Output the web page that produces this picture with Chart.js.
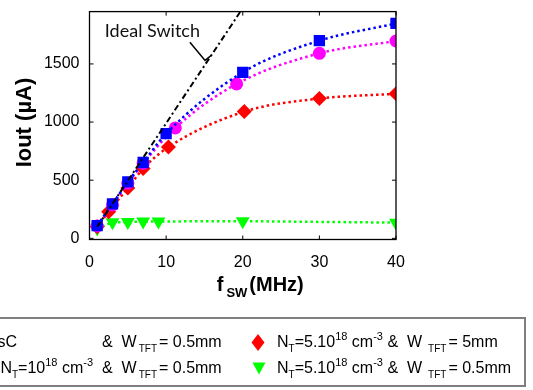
<!DOCTYPE html>
<html><head><meta charset="utf-8">
<script src="https://cdn.jsdelivr.net/npm/chart.js@4.4.1/dist/chart.umd.min.js"></script>
<style>
html,body{margin:0;padding:0;background:#fff;width:533px;height:390px;overflow:hidden;position:relative;font-family:"Liberation Sans",Arial,sans-serif;}
#c{position:absolute;left:0;top:0;}
#legend{position:absolute;left:-160px;top:317px;width:686px;height:70px;border:2px solid #7f7f7f;box-sizing:border-box;}
.lt{position:absolute;font-size:16px;line-height:16px;white-space:nowrap;color:#000;}
.sb{font-size:10px;position:relative;top:5px;margin:0 2px 0 2px;}
.sp{font-size:11px;position:relative;top:-7px;}
.mk{position:absolute;}
</style></head><body>
<canvas id="c" width="533" height="390"></canvas>
<div id="legend"></div>
<div class="lt" style="right:516px;top:333.5px">sC</div>
<div class="lt" style="left:102px;top:333.5px">&amp;&nbsp; W<span class="sb">TFT</span>= 0.5mm</div>
<div class="lt" style="right:440px;top:359.5px">N<span class="sb" style="margin:0">T</span>=10<span class="sp">18</span> cm<span class="sp">-3</span></div>
<div class="lt" style="left:102px;top:359.5px">&amp;&nbsp; W<span class="sb">TFT</span>= 0.5mm</div>
<svg class="mk" style="left:250px;top:334px" width="16" height="17"><polygon points="8,0 14.5,8.5 8,17 1.5,8.5" fill="#ff0000"/></svg>
<svg class="mk" style="left:252px;top:362px" width="14" height="13"><polygon points="0.5,0.5 13.5,0.5 7,12.5" fill="#00ff00"/></svg>
<div class="lt" style="left:277px;top:333.5px">N<span class="sb" style="margin:0">T</span>=5.10<span class="sp">18</span> cm<span class="sp">-3</span> &amp;&nbsp; W<span class="sb" style="margin-left:6px">TFT</span>= 5mm</div>
<div class="lt" style="left:277px;top:359.5px">N<span class="sb" style="margin:0">T</span>=5.10<span class="sp">18</span> cm<span class="sp">-3</span> &amp;&nbsp; W<span class="sb" style="margin-left:6px">TFT</span>= 0.5mm</div>
<script>
// ---- data ----
const fIdeal = [1, 5, 10, 15, 20, 22];
const iIdeal = [99, 495, 990, 1485, 1980, 2178];
const fBlue  = [1, 3, 5, 7, 10, 20, 30, 40];
const iBlue  = [110, 296, 486, 652, 900, 1428, 1700, 1848];
const fMag   = [1, 3, 5, 7, 11.2, 19.2, 30, 40];
const iMag   = [106, 288, 474, 644, 950, 1328, 1591, 1697];
const fRed   = [1, 2.5, 5, 7, 10.3, 20.2, 30, 40];
const iRed   = [100, 228, 432, 600, 785, 1090, 1202, 1243];
const fGreen = [1, 3, 5, 7, 9, 20, 40];
const iGreen = [85, 138, 140, 145, 145, 148, 135];
const xTicks = [0, 10, 20, 30, 40];
const yTicks = [0, 500, 1000, 1500];

Chart.defaults.font.family = 'Liberation Sans';

const pts = (xs, ys) => xs.map((x, i) => ({x: x, y: ys[i]}));

const frame = {
  id: 'frame',
  afterDatasetsDraw(chart) {
    const ctx = chart.ctx, a = chart.chartArea;
    const xs = chart.scales.x, ys = chart.scales.y;
    ctx.save();
    ctx.strokeStyle = '#000';
    ctx.lineWidth = 1.3;
    ctx.strokeRect(a.left, a.top, a.right - a.left, a.bottom - a.top);
    ctx.lineWidth = 1;
    const L = 4;
    ctx.beginPath();
    xTicks.forEach(v => {
      const p = xs.getPixelForValue(v);
      ctx.moveTo(p, a.bottom); ctx.lineTo(p, a.bottom - L);
      ctx.moveTo(p, a.top); ctx.lineTo(p, a.top + L);
    });
    yTicks.forEach(v => {
      const p = ys.getPixelForValue(v);
      ctx.moveTo(a.left, p); ctx.lineTo(a.left + L, p);
      ctx.moveTo(a.right, p); ctx.lineTo(a.right - L, p);
    });
    ctx.stroke();

    // annotation "Ideal Switch" with pointer
    ctx.fillStyle = '#111';
    ctx.font = '18px Lato, "Open Sans", sans-serif';
    ctx.textBaseline = 'middle';
    ctx.textAlign = 'left';
    ctx.fillText('Ideal Switch', xs.getPixelForValue(2.0), ys.getPixelForValue(1778));
    ctx.lineWidth = 1.5;
    ctx.beginPath();
    ctx.moveTo(xs.getPixelForValue(13.1), ys.getPixelForValue(1687));
    ctx.lineTo(xs.getPixelForValue(15.08), ys.getPixelForValue(1530));
    ctx.lineTo(xs.getPixelForValue(15.95), ys.getPixelForValue(1577));
    ctx.stroke();

    // axis titles
    ctx.fillStyle = '#000';
    const cx = (a.left + a.right) / 2;
    ctx.textBaseline = 'alphabetic';
    ctx.font = 'bold 20px "Liberation Sans", Arial, sans-serif';
    let x0 = cx - 26;
    ctx.fillText('f', x0, 291);
    let w = ctx.measureText('f').width;
    ctx.font = 'bold 13px "Liberation Sans", Arial, sans-serif';
    ctx.fillText('SW', x0 + w + 3, 297);
    const w2 = ctx.measureText('SW').width;
    ctx.font = 'bold 20px "Liberation Sans", Arial, sans-serif';
    ctx.fillText('(MHz)', x0 + w + 3 + w2 + 2, 291);

    ctx.save();
    ctx.translate(25, (a.top + a.bottom) / 2 - 3);
    ctx.rotate(-Math.PI / 2);
    ctx.textAlign = 'center';
    ctx.textBaseline = 'middle';
    ctx.font = 'bold 22px "Liberation Sans", Arial, sans-serif';
    ctx.fillText('Iout (\u00b5A)', 0, 0);
    ctx.restore();
    ctx.restore();
  }
};

const dotted = {borderDash: [2.5, 3], borderWidth: 2.5, showLine: true, borderCapStyle: 'butt'};

new Chart(document.getElementById('c'), {
  type: 'scatter',
  data: {
    datasets: [
      {label: 'Ideal Switch', data: pts(fIdeal, iIdeal), showLine: true, borderColor: '#000',
       borderWidth: 2, borderDash: [6, 3, 2, 3], pointRadius: 0, tension: 0},
      Object.assign({label: 'blue', data: pts(fBlue, iBlue), borderColor: '#0000ff', backgroundColor: '#0000ff',
       pointStyle: 'rect', pointRadius: 8, pointBorderWidth: 0, cubicInterpolationMode: 'monotone'}, dotted),
      Object.assign({label: 'magenta', data: pts(fMag, iMag), borderColor: '#ff00ff', backgroundColor: '#ff00ff',
       pointStyle: 'circle', pointRadius: 6.5, pointBorderWidth: 0, cubicInterpolationMode: 'monotone'}, dotted),
      Object.assign({label: 'red', data: pts(fRed, iRed), borderColor: '#ff0000', backgroundColor: '#ff0000',
       pointStyle: 'rectRot', pointRadius: 7.5, pointBorderWidth: 0, cubicInterpolationMode: 'monotone'}, dotted),
      Object.assign({label: 'green', data: pts(fGreen, iGreen), borderColor: '#00ff00', backgroundColor: '#00ff00',
       pointStyle: 'triangle', rotation: 180, pointRadius: 8, pointBorderWidth: 0, tension: 0}, dotted)
    ]
  },
  options: {
    responsive: false,
    devicePixelRatio: 1,
    animation: false,
    layout: {padding: {left: 0, right: 137, top: 3.5, bottom: 90}},
    plugins: {legend: {display: false}, tooltip: {enabled: false}},
    scales: {
      x: {
        type: 'linear', min: 0, max: 40,
        afterBuildTicks: s => { s.ticks = xTicks.map(v => ({value: v})); },
        afterFit: s => { s.height = 60.5; },
        ticks: {font: {size: 16, family: 'Liberation Sans'}, color: '#000', padding: 5,
                maxRotation: 0, autoSkip: false, callback: v => String(v)},
        grid: {display: false}, border: {display: false}
      },
      y: {
        type: 'linear', min: -10, max: 1950,
        afterBuildTicks: s => { s.ticks = yTicks.map(v => ({value: v})); },
        afterFit: s => { s.width = 89.5; },
        ticks: {font: {size: 16, family: 'Liberation Sans'}, color: '#000', padding: 2,
                autoSkip: false, callback: v => String(v)},
        grid: {display: false}, border: {display: false}
      }
    }
  },
  plugins: [frame]
});
</script>
</body></html>
